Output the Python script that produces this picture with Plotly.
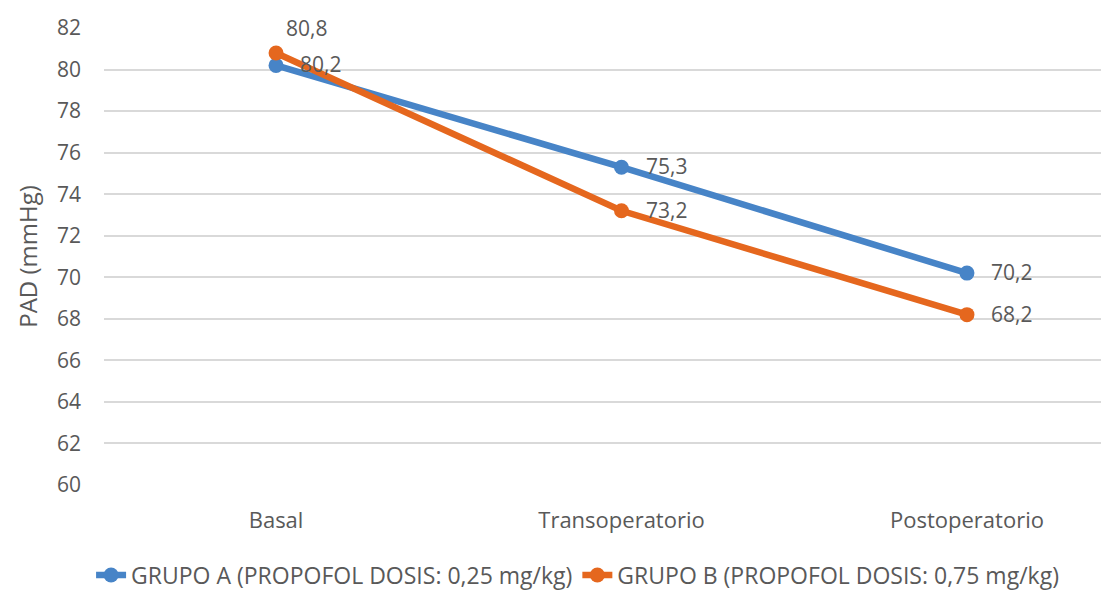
import plotly.graph_objects as go

categories = ["Basal", "Transoperatorio", "Postoperatorio"]
grupo_a = [80.2, 75.3, 70.2]
grupo_b = [80.8, 73.2, 68.2]
name_a = "GRUPO A (PROPOFOL DOSIS: 0,25 mg/kg)"
name_b = "GRUPO B (PROPOFOL DOSIS: 0,75 mg/kg)"
y_ticks = list(range(60, 83, 2))

blue = "#4784C7"
orange = "#E5671E"
text_grey = "#595959"
font_family = "'Open Sans', sans-serif"


def fmt(v):
    return f"{v:.1f}".replace(".", ",")


x_idx = list(range(len(categories)))

fig = go.Figure()
for name, vals, color in [(name_a, grupo_a, blue), (name_b, grupo_b, orange)]:
    fig.add_trace(go.Scatter(
        x=x_idx, y=vals, name=name, mode="lines+markers",
        line=dict(color=color, width=6.5), marker=dict(color=color, size=15),
        cliponaxis=False,
    ))

# Value labels: group A to the right of each point, group B above the first point
annotations = []
for i, v in enumerate(grupo_a):
    annotations.append(dict(x=x_idx[i], y=v, text=fmt(v), showarrow=False,
                            xanchor="left", yanchor="middle", xshift=22, yshift=1))
for i, v in enumerate(grupo_b):
    if i == 0:
        annotations.append(dict(x=x_idx[i], y=v, text=fmt(v), showarrow=False,
                                xanchor="left", yanchor="bottom", xshift=8, yshift=9))
    else:
        annotations.append(dict(x=x_idx[i], y=v, text=fmt(v), showarrow=False,
                                xanchor="left", yanchor="middle", xshift=22, yshift=1))
for a in annotations:
    a["font"] = dict(size=21, color=text_grey, family=font_family)

fig.update_layout(
    width=1101, height=597,
    margin=dict(l=104, r=0, t=28, b=106),
    paper_bgcolor="white", plot_bgcolor="white",
    font=dict(family=font_family, size=21, color=text_grey),
    showlegend=True,
    annotations=annotations,
    legend=dict(orientation="h", x=0.475, xanchor="center", y=-0.15, yanchor="top",
                font=dict(size=23, color=text_grey), traceorder="normal"),
    xaxis=dict(
        range=[-0.498, 2.388], tickmode="array", tickvals=x_idx, ticktext=categories,
        showgrid=False, zeroline=False, showline=False, ticks="",
        ticklabelstandoff=20,
        tickfont=dict(size=22, color=text_grey),
    ),
    yaxis=dict(
        range=[60, 82], tickmode="array", tickvals=y_ticks,
        showgrid=True, gridcolor="#D9D9D9", gridwidth=1.5, zeroline=False,
        showline=False, ticks="", ticklabelstandoff=22,
        tickfont=dict(size=21, color=text_grey),
        title=dict(text="PAD (mmHg)", font=dict(size=24, color=text_grey), standoff=12),
    ),
)

fig.write_html("out.html")
